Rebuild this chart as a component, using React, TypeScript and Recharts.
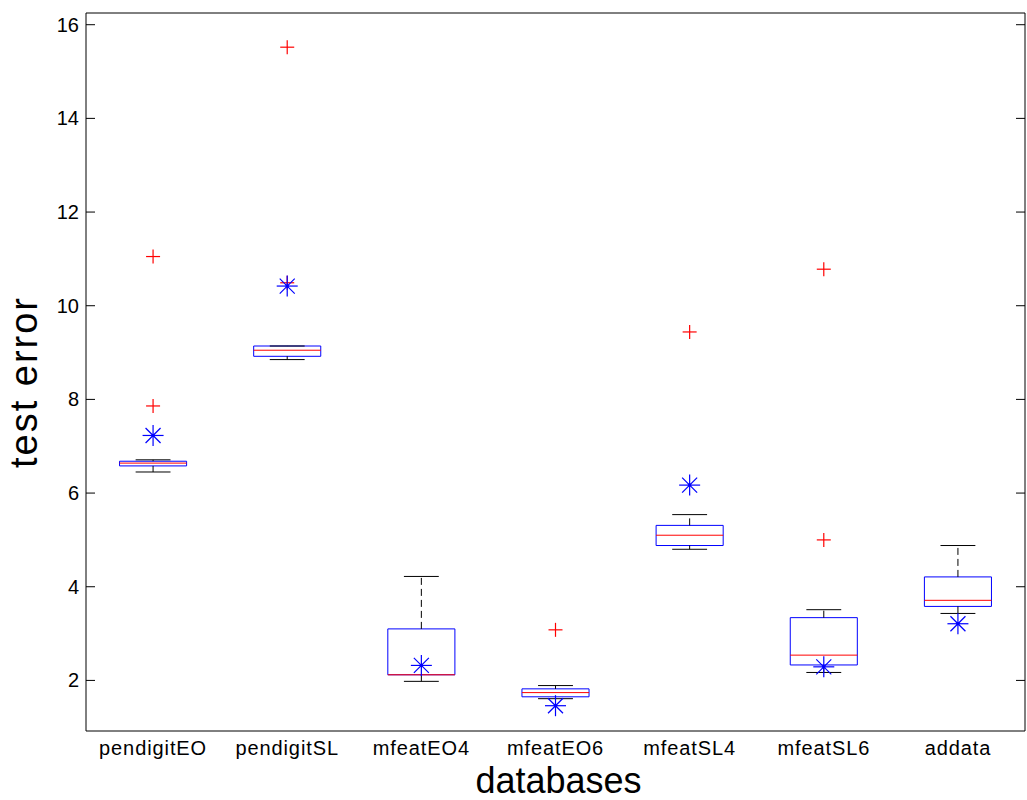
import {
  ComposedChart,
  ReferenceArea,
  ReferenceLine,
  Scatter,
  XAxis,
  YAxis,
} from "recharts";

// ボックスプロットの元データ
const categories = [
  "pendigitEO",
  "pendigitSL",
  "mfeatEO4",
  "mfeatEO6",
  "mfeatSL4",
  "mfeatSL6",
  "addata",
];
const lowerWhisker = [6.45, 8.85, 1.98, 1.61, 4.8, 2.17, 3.43];
const q1 = [6.58, 8.92, 2.12, 1.65, 4.88, 2.33, 3.58];
const median = [6.64, 9.05, 2.12, 1.74, 5.1, 2.54, 3.71];
const q3 = [6.68, 9.14, 3.1, 1.82, 5.31, 3.34, 4.21];
const upperWhisker = [6.71, 9.14, 4.22, 1.89, 5.54, 3.51, 4.88];
const outlierCat = [1, 1, 2, 2, 4, 5, 6, 6];
const outlierVal = [11.05, 7.86, 15.52, 10.49, 3.08, 9.44, 10.78, 5.0];
const starVal = [7.23, 10.42, 2.32, 1.46, 6.17, 2.29, 3.21];
const yTicks = [2, 4, 6, 8, 10, 12, 14, 16];

const Y_MIN = 0.92;
const Y_MAX = 16.25;
const BOX_HALF = 0.25;
const CAP_HALF = 0.13;
const FONT = '"Liberation Sans", Arial, Helvetica, sans-serif';

const outliers = outlierVal.map((v, i) => ({ x: outlierCat[i], y: v }));
const stars = starVal.map((v, i) => ({ x: i + 1, y: v }));

function PlusMark(props: any) {
  const { cx, cy } = props;
  return (
    <g stroke="#ff0000" strokeWidth={1.2}>
      <line x1={cx - 7} y1={cy} x2={cx + 7} y2={cy} />
      <line x1={cx} y1={cy - 7} x2={cx} y2={cy + 7} />
    </g>
  );
}

function StarMark(props: any) {
  const { cx, cy } = props;
  return (
    <g stroke="#0000ff" strokeWidth={1.2}>
      <line x1={cx - 10.5} y1={cy} x2={cx + 10.5} y2={cy} />
      <line x1={cx} y1={cy - 10.5} x2={cx} y2={cy + 10.5} />
      <line x1={cx - 7.5} y1={cy - 7.5} x2={cx + 7.5} y2={cy + 7.5} />
      <line x1={cx - 7.5} y1={cy + 7.5} x2={cx + 7.5} y2={cy - 7.5} />
      <circle cx={cx} cy={cy} r={1.8} fill="#0000ff" stroke="none" />
    </g>
  );
}

function LeftTick(props: any) {
  const { x, y, payload } = props;
  return (
    <g>
      <line x1={x} y1={y} x2={x + 9} y2={y} stroke="#000" />
      <text
        x={x - 7}
        y={y}
        dy={7}
        textAnchor="end"
        fontFamily={FONT}
        fontSize={20}
        fill="#000"
      >
        {payload.value}
      </text>
    </g>
  );
}

function RightTick(props: any) {
  const { x, y } = props;
  return <line x1={x} y1={y} x2={x - 9} y2={y} stroke="#000" />;
}

function CatTick(props: any) {
  const { x, y, payload } = props;
  return (
    <text
      x={x}
      y={y + 24}
      textAnchor="middle"
      fontFamily={FONT}
      fontSize={20}
      letterSpacing={0.9}
      fill="#000"
    >
      {categories[payload.value - 1]}
    </text>
  );
}

export default function App() {
  return (
    <div style={{ position: "absolute", left: 0, top: 0, background: "#fff" }}>
      <ComposedChart
        width={1027}
        height={800}
        margin={{ top: 13, right: 0, bottom: 0, left: 0 }}
      >
        <XAxis
          type="number"
          dataKey="x"
          domain={[0.5, 7.5]}
          ticks={[1, 2, 3, 4, 5, 6, 7]}
          interval={0}
          allowDataOverflow
          height={69}
          tickSize={0}
          tickMargin={0}
          tickLine={false}
          axisLine={{ stroke: "#000" }}
          tick={<CatTick />}
          label={{
            content: (p: any) => {
              const vb = p.viewBox;
              return (
                <text
                  x={vb.x + vb.width / 2 + 3}
                  y={vb.y + 62}
                  textAnchor="middle"
                  fontFamily={FONT}
                  fontSize={36}
                  fill="#000"
                >
                  databases
                </text>
              );
            },
          }}
        />
        <YAxis
          type="number"
          dataKey="y"
          domain={[Y_MIN, Y_MAX]}
          ticks={yTicks}
          interval={0}
          allowDataOverflow
          width={86}
          tickSize={0}
          tickMargin={0}
          tickLine={false}
          axisLine={{ stroke: "#000" }}
          tick={<LeftTick />}
          label={{
            content: () => (
              <text
                x={37}
                y={382}
                transform="rotate(-90 37 382)"
                textAnchor="middle"
                fontFamily={FONT}
                fontSize={38}
                letterSpacing={2}
                fill="#000"
              >
                test error
              </text>
            ),
          }}
        />
        <YAxis
          yAxisId="right"
          orientation="right"
          type="number"
          domain={[Y_MIN, Y_MAX]}
          ticks={yTicks}
          interval={0}
          allowDataOverflow
          width={2}
          tickSize={0}
          tickMargin={0}
          tickLine={false}
          axisLine={{ stroke: "#000" }}
          tick={<RightTick />}
        />
        {/* 上枠 */}
        <ReferenceLine y={Y_MAX} stroke="#000" ifOverflow="visible" />

        {/* ひげ (破線) */}
        {categories.map((_, i) => (
          <ReferenceLine
            key={`wu-${i}`}
            segment={[
              { x: i + 1, y: q3[i] },
              { x: i + 1, y: upperWhisker[i] },
            ]}
            stroke="#000"
            strokeDasharray="7 4"
          />
        ))}
        {categories.map((_, i) => (
          <ReferenceLine
            key={`wl-${i}`}
            segment={[
              { x: i + 1, y: lowerWhisker[i] },
              { x: i + 1, y: q1[i] },
            ]}
            stroke="#000"
            strokeDasharray="7 4"
          />
        ))}
        {/* ひげの端 */}
        {categories.map((_, i) => (
          <ReferenceLine
            key={`cu-${i}`}
            segment={[
              { x: i + 1 - CAP_HALF, y: upperWhisker[i] },
              { x: i + 1 + CAP_HALF, y: upperWhisker[i] },
            ]}
            stroke="#000"
          />
        ))}
        {categories.map((_, i) => (
          <ReferenceLine
            key={`cl-${i}`}
            segment={[
              { x: i + 1 - CAP_HALF, y: lowerWhisker[i] },
              { x: i + 1 + CAP_HALF, y: lowerWhisker[i] },
            ]}
            stroke="#000"
          />
        ))}
        {/* 箱 */}
        {categories.map((_, i) => (
          <ReferenceArea
            key={`box-${i}`}
            x1={i + 1 - BOX_HALF}
            x2={i + 1 + BOX_HALF}
            y1={q1[i]}
            y2={q3[i]}
            fill="none"
            fillOpacity={0}
            stroke="#0000ff"
            strokeOpacity={1}
          />
        ))}
        {/* 中央値 */}
        {categories.map((_, i) => (
          <ReferenceLine
            key={`med-${i}`}
            segment={[
              { x: i + 1 - BOX_HALF, y: median[i] },
              { x: i + 1 + BOX_HALF, y: median[i] },
            ]}
            stroke="#ff0000"
          />
        ))}

        <Scatter
          data={outliers}
          shape={<PlusMark />}
          isAnimationActive={false}
        />
        <Scatter data={stars} shape={<StarMark />} isAnimationActive={false} />
      </ComposedChart>
    </div>
  );
}
